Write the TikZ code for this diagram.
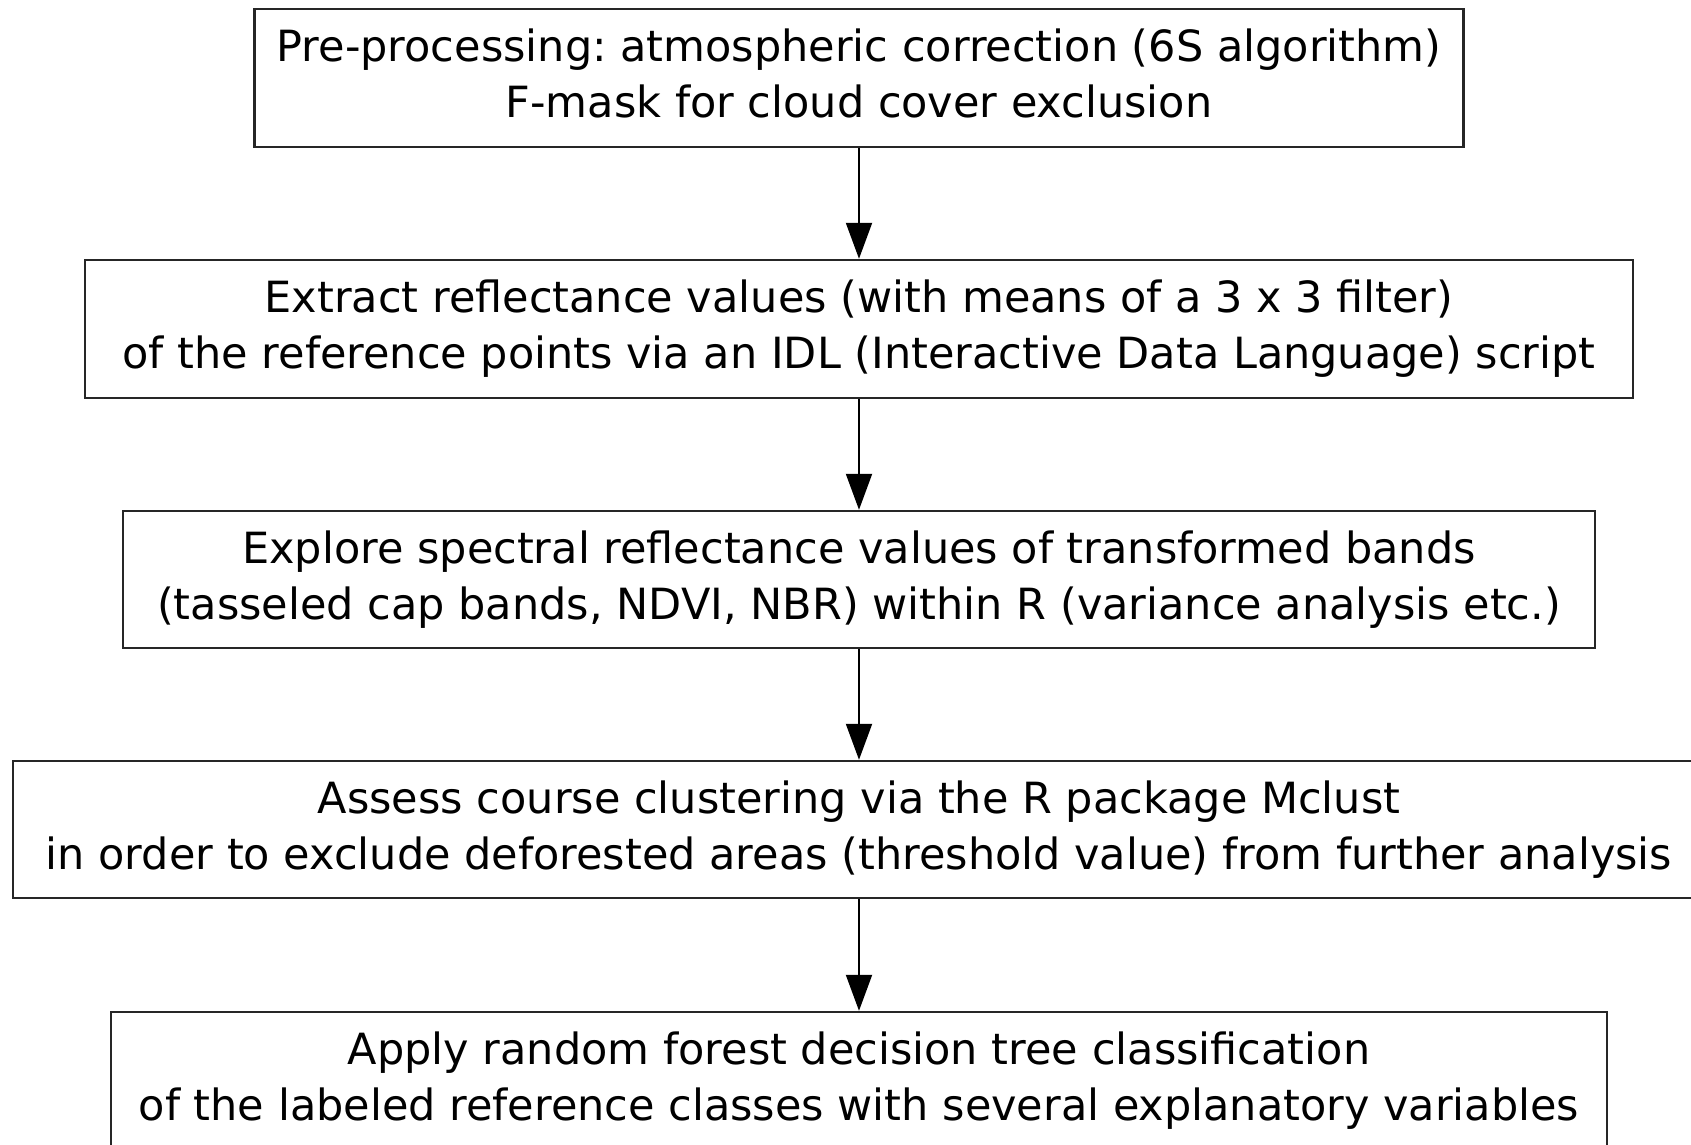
\documentclass[tikz,border=0pt]{standalone}
\usepackage{fontspec}
\setmainfont{DejaVu Sans}
\usetikzlibrary{arrows.meta}
\frenchspacing
\begin{document}
\begin{tikzpicture}[x=1pt,y=1pt,
  stepbox/.style={draw=black!85, line width=2.4pt, fill=white, align=center,
    inner sep=0pt, font=\fontsize{43}{56}\selectfont},
  flow/.style={line width=2pt, -{Triangle[width=26pt,length=36pt]}}]
\useasboundingbox (0,0) rectangle (1691,1144);
\clip (0,0) rectangle (1691,1144);
\fill[white] (0,0) rectangle (1691,1144);
\node[stepbox, minimum width=1209pt, minimum height=138pt] (b1) at (859,1066)
  {Pre-processing: atmospheric correction (6S algorithm)\\F-mask for cloud cover exclusion\rule[-10pt]{0pt}{10pt}};
\node[stepbox, minimum width=1548pt, minimum height=138pt] (b2) at (859,815)
  {Extract reflectance values (with means of a 3 x 3 filter)\\ of the reference points via an IDL (Interactive Data Language) script};
\node[stepbox, minimum width=1472pt, minimum height=137pt] (b3) at (859,564.5)
  {Explore spectral reflectance values of transformed bands\\ (tasseled cap bands, NDVI, NBR) within R (variance analysis etc.)};
\node[stepbox, minimum width=1692pt, minimum height=137pt] (b4) at (859,314.5)
  {Assess course clustering via the R package Mclust\\in order to exclude deforested areas (threshold value) from further analysis};
\node[stepbox, minimum width=1496pt, minimum height=138pt] (b5) at (859,63)
  {Apply random forest decision tree classification\\ of the labeled reference classes with several explanatory variables};
\draw[flow] (b1.south) -- (b2.north);
\draw[flow] (b2.south) -- (b3.north);
\draw[flow] (b3.south) -- (b4.north);
\draw[flow] (b4.south) -- (b5.north);
\end{tikzpicture}
\end{document}
